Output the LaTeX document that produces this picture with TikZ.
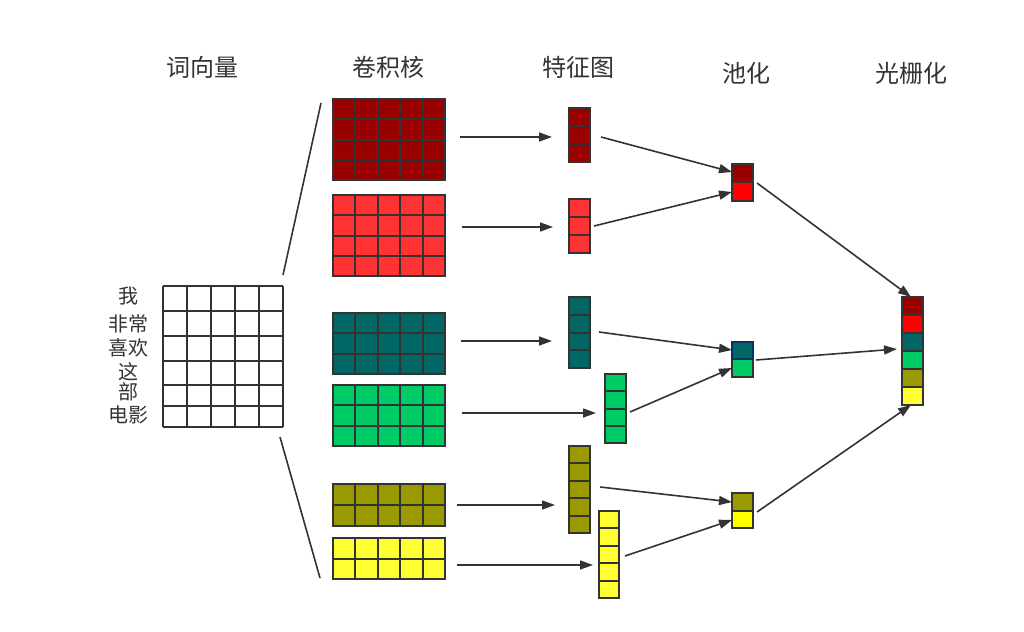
\documentclass[tikz,border=0pt]{standalone}
\usepackage{fontspec}
\newfontfamily\cjk{Noto Sans CJK SC}
\usetikzlibrary{arrows.meta}
\definecolor{bd}{HTML}{333333}
\definecolor{tx}{HTML}{333333}
\definecolor{cA}{HTML}{990000}
\definecolor{cB}{HTML}{FF3333}
\definecolor{cC}{HTML}{006666}
\definecolor{cD}{HTML}{00CC66}
\definecolor{cE}{HTML}{999900}
\definecolor{cF}{HTML}{FFFF33}
\definecolor{pB}{HTML}{FF0000}
\definecolor{pF}{HTML}{FFFF00}
\definecolor{nv}{HTML}{003366}
\newcommand\blk[8]{%
  \pgfmathsetmacro\bkcw{(#4-#2)/#6}%
  \pgfmathsetmacro\bkch{(#5-#3)/#7}%
  \fill[#8] (#2,#3) rectangle (#4,#5);%
  \foreach \k in {0,...,#6}{\draw[cell] ({round(#2+\k*\bkcw)},#3) -- ({round(#2+\k*\bkcw)},#5);}%
  \foreach \k in {0,...,#7}{\draw[cell] (#2,{round(#3+\k*\bkch)}) -- (#4,{round(#3+\k*\bkch)});}%
  \draw[cell] (#2,#3) rectangle (#4,#5);%
  \coordinate (#1) at ({(#2+#4)/2},{(#3+#5)/2});%
}
\begin{document}
\begin{tikzpicture}[x=1pt,y=-1pt,
  cell/.style={draw=bd,line width=2pt},
  conn/.style={draw=bd,line width=1.6pt,-{Triangle[length=13pt,width=9pt]}},
  plain/.style={draw=bd,line width=1.6pt},
  title/.style={font=\cjk\fontsize{24}{24}\selectfont,text=tx,inner sep=0},
  word/.style={font=\cjk\fontsize{20}{20}\selectfont,text=tx,inner sep=0}]
\useasboundingbox (0,0) rectangle (1024,631);
% titles
\node[title] (t1) at (202.5,67) {词向量};
\node[title] (t2) at (388,67) {卷积核};
\node[title] (t3) at (578,67) {特征图};
\node[title] (t4) at (746.7,73) {池化};
\node[title] (t5) at (911.7,73) {光栅化};
% word labels
\node[word] (w1) at (128,296.5) {我};
\node[word] (w2) at (128,323.5) {非常};
\node[word] (w3) at (128,348) {喜欢};
\node[word] (w4) at (128,372) {这};
\node[word] (w5) at (128,392) {部};
\node[word] (w6) at (128,414.5) {电影};
% word matrix
\foreach \x in {163,187,211,235,259,283}{\draw[cell] (\x,286) -- (\x,427);}
\foreach \y in {286,311,336,361,385,406,427}{\draw[cell] (163,\y) -- (283,\y);}
\coordinate (wm) at (223,356);
% kernels
\blk{k1}{333}{99}{445}{180}{5}{4}{cA}
\blk{k2}{333}{195}{445}{276}{5}{4}{cB}
\blk{k3}{333}{313}{445}{374}{5}{3}{cC}
\blk{k4}{333}{385}{445}{446}{5}{3}{cD}
\blk{k5}{333}{484}{445}{526}{5}{2}{cE}
\blk{k6}{333}{538}{445}{579}{5}{2}{cF}
% feature maps
\blk{f1}{569}{108}{590}{162}{1}{3}{cA}
\blk{f2}{569}{199}{590}{253}{1}{3}{cB}
\blk{f3}{569}{297}{590}{368}{1}{4}{cC}
\blk{f4}{605}{374}{626}{443}{1}{4}{cD}
\blk{f5}{569}{446}{590}{533}{1}{5}{cE}
\blk{f6}{599}{511}{619}{598}{1}{5}{cF}
% pooling
\draw[cell,fill=cA] (732,164) rectangle (753,182);
\draw[cell,fill=pB] (732,182) rectangle (753,201);
\coordinate (p1) at (742.5,182);
\draw[cell,fill=cD] (732,359) rectangle (753,377);
\draw[cell,draw=nv,fill=cC] (732,342) rectangle (753,359);
\coordinate (p2) at (742.5,359);
\draw[cell,fill=cE] (732,493) rectangle (753,511);
\draw[cell,fill=pF] (732,511) rectangle (753,528);
\coordinate (p3) at (742.5,511);
% raster
\foreach \c [count=\n from 0] in {cA,pB,cC,cD,cE,cF}{%
  \draw[cell,fill=\c] (902,{297+\n*18}) rectangle (923,{297+(\n+1)*18});}
\coordinate (r) at (912.5,351);
% connector end points
\coordinate (a1) at (283,275);  \coordinate (b1) at (321,103);
\coordinate (a2) at (280,437);  \coordinate (b2) at (320,578);
\coordinate (k1s) at (460,137); \coordinate (f1e) at (552,137);
\coordinate (k2s) at (462,227); \coordinate (f2e) at (553,227);
\coordinate (k3s) at (461,341); \coordinate (f3e) at (552,341);
\coordinate (k4s) at (462,413); \coordinate (f4e) at (596,413);
\coordinate (k5s) at (457,505); \coordinate (f5e) at (555,505);
\coordinate (k6s) at (457,565); \coordinate (f6e) at (593,565);
\coordinate (f1s) at (601,137); \coordinate (p1a) at (732,172);
\coordinate (f2s) at (594,226); \coordinate (p1b) at (732,192);
\coordinate (f3s) at (599,332); \coordinate (p2a) at (732,350);
\coordinate (f4s) at (630,412); \coordinate (p2b) at (732,368);
\coordinate (f5s) at (600,487); \coordinate (p3a) at (732,502);
\coordinate (f6s) at (625,556); \coordinate (p3b) at (732,520);
\coordinate (p1s) at (757,183); \coordinate (ra) at (911,297);
\coordinate (p2s) at (756,360); \coordinate (rb) at (897,349);
\coordinate (p3s) at (757,512); \coordinate (rc) at (911,405);
% connectors
\draw[plain] (a1) -- (b1);
\draw[plain] (a2) -- (b2);
\foreach \s/\e in {k1s/f1e,k2s/f2e,k3s/f3e,k4s/f4e,k5s/f5e,k6s/f6e,
  f1s/p1a,f2s/p1b,f3s/p2a,f4s/p2b,f5s/p3a,f6s/p3b,p1s/ra,p2s/rb,p3s/rc}{%
  \draw[conn] (\s) -- (\e);}
\end{tikzpicture}
\end{document}
